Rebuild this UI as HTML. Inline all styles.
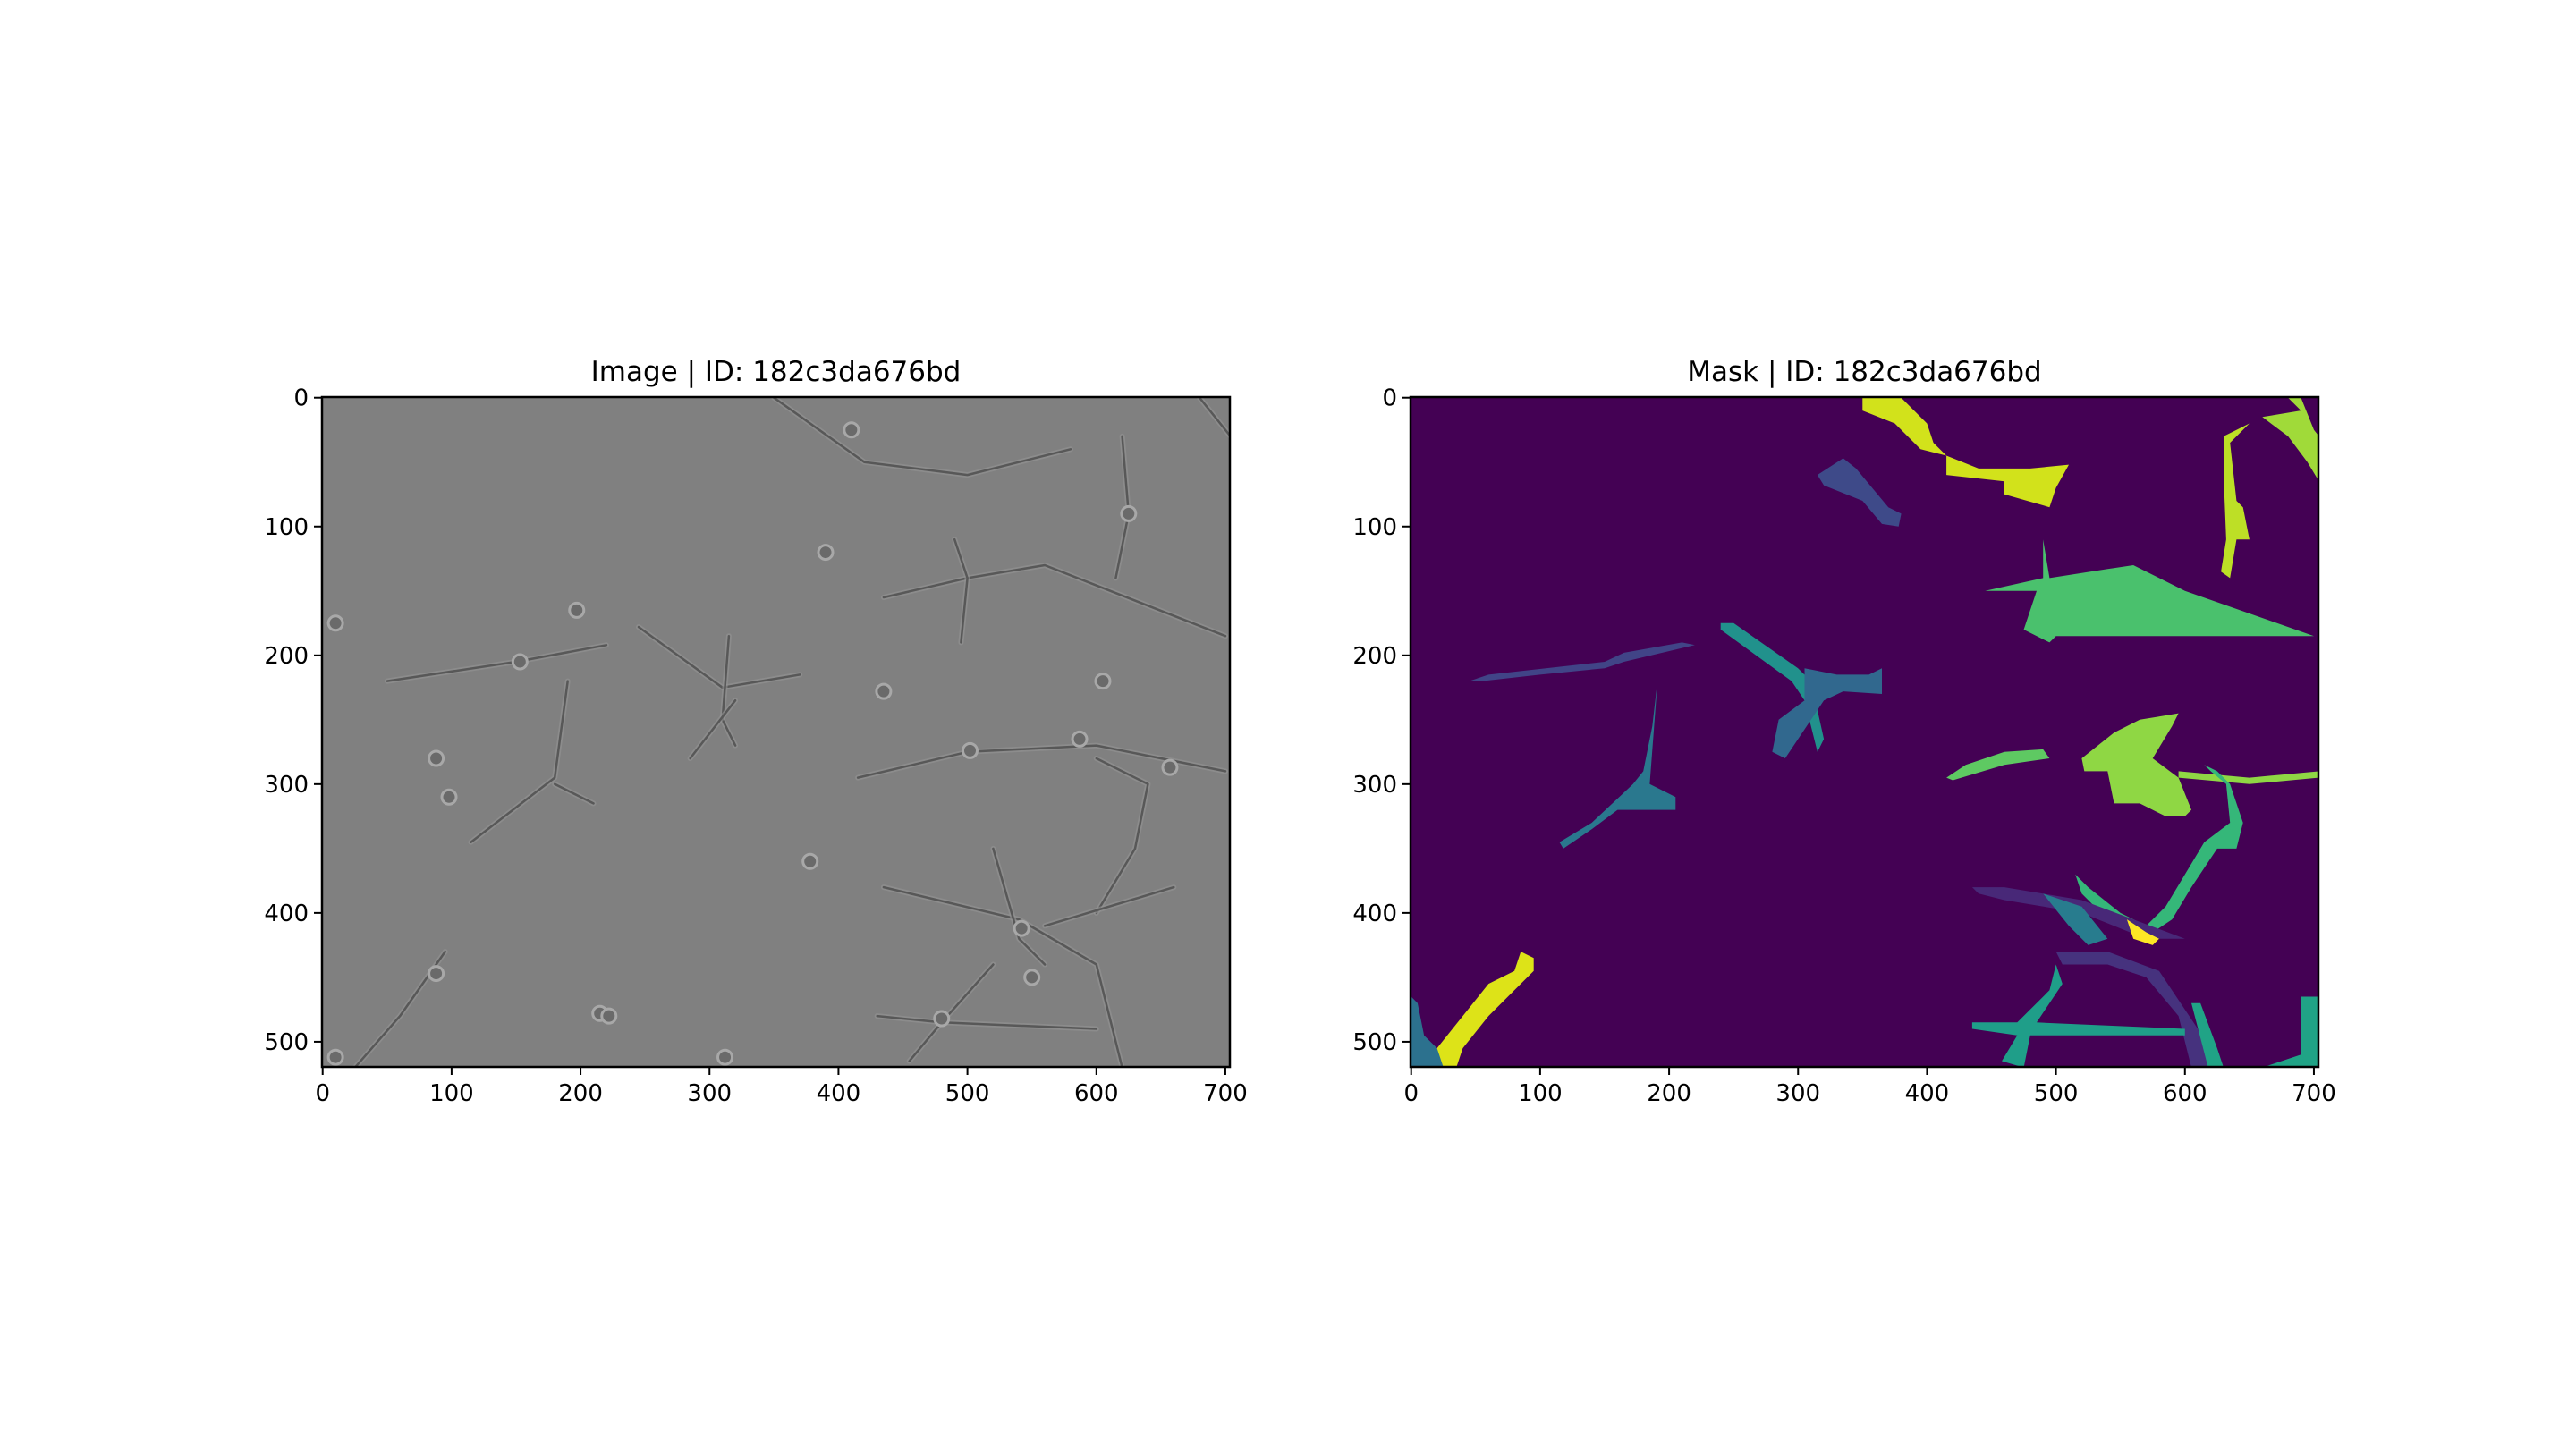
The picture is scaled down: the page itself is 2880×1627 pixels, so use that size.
<!DOCTYPE html>
<html><head><meta charset="utf-8"><style>
html,body{margin:0;padding:0;background:#fff;}
body{width:2880px;height:1622px;overflow:hidden;font-family:"Liberation Sans","DejaVu Sans",sans-serif;}
svg text{font-family:"DejaVu Sans","Liberation Sans",sans-serif;}
</style></head><body>
<svg id="fig" width="2880" height="1622" viewBox="0 0 2880 1622" xmlns="http://www.w3.org/2000/svg"></svg>
<script>
const xTicks=[0,100,200,300,400,500,600,700];
const yTicks=[0,100,200,300,400,500];
const imgW=704, imgH=520;
const titles=["Image | ID: 182c3da676bd","Mask | ID: 182c3da676bd"];
const axLeft=[360,1577];
const maskColors=["#d2e21b","#3e4a89","#bddf26","#a0da39","#4ac16d","#414487","#21918c","#31688e","#2a788e","#5ec962","#8fd744","#8fd744","#35b779","#482878","#287c8e","#fde725","#46327e","#1f9e89","#20a386","#20a386","#dde318","#2c718e"];
const maskShapes=[
[[350,0],[380,0],[400,20],[405,35],[415,45],[440,55],[480,55],[510,52],[500,70],[495,85],[460,75],[460,65],[415,60],[415,45],[395,40],[375,20],[350,10]],
[[315,60],[335,47],[345,55],[370,85],[380,90],[378,100],[365,98],[350,80],[320,68]],
[[630,30],[640,25],[650,20],[635,35],[640,80],[645,85],[650,110],[640,110],[635,140],[628,135],[632,110],[630,60]],
[[660,15],[690,10],[680,0],[690,0],[700,25],[704,30],[704,65],[695,50],[680,30]],
[[445,150],[490,140],[490,110],[495,140],[540,133],[560,130],[600,150],[700,185],[500,185],[495,190],[475,180],[485,150]],
[[45,220],[60,215],[150,205],[165,198],[210,190],[220,192],[165,205],[150,210],[100,215],[55,220]],
[[240,175],[250,175],[300,210],[310,220],[320,265],[315,275],[305,235],[295,220],[240,180]],
[[305,210],[330,215],[355,215],[365,210],[365,230],[335,228],[320,235],[290,280],[280,275],[285,250],[305,235]],
[[191,220],[187,255],[180,290],[172,300],[140,330],[115,345],[118,350],[140,335],[160,320],[205,320],[205,310],[185,300],[188,260]],
[[415,295],[430,285],[460,275],[490,273],[495,280],[460,285],[420,297]],
[[520,280],[545,260],[565,250],[595,245],[590,255],[575,280],[595,295],[605,320],[600,325],[585,325],[565,315],[545,315],[540,290],[522,290]],
[[595,290],[650,295],[704,290],[704,295],[650,300],[595,295]],
[[515,370],[525,380],[550,400],[570,410],[585,395],[600,370],[615,345],[635,330],[632,300],[620,290],[615,285],[625,290],[635,300],[645,330],[640,350],[625,350],[605,380],[590,405],[575,415],[555,410],[540,405],[520,385]],
[[435,380],[460,380],[520,390],[560,405],[600,420],[570,420],[520,400],[460,390],[440,385]],
[[490,385],[520,395],[540,420],[525,425],[510,410]],
[[555,405],[570,415],[580,420],[575,425],[560,420]],
[[500,430],[540,430],[580,445],[610,490],[620,520],[605,520],[595,480],[570,450],[540,440],[505,440]],
[[435,485],[470,485],[495,460],[500,440],[505,455],[485,485],[600,490],[600,495],[480,495],[475,520],[458,515],[470,495],[435,490]],
[[605,470],[612,470],[625,505],[630,520],[618,520]],
[[690,465],[704,465],[704,520],[660,520],[690,510]],
[[20,505],[40,480],[60,455],[80,445],[85,430],[95,435],[95,445],[80,460],[60,480],[40,505],[35,520],[20,520]],
[[0,465],[5,470],[10,495],[20,505],[25,520],[0,520]]
];
const cellLines=[
[[50,220],[150,205],[220,192]],
[[190,220],[180,295],[115,345]],[[180,300],[210,315]],
[[245,178],[310,225],[370,215]],[[315,185],[310,250],[320,270]],[[285,280],[320,235]],
[[435,155],[500,140],[560,130],[700,185]],[[490,110],[500,140],[495,190]],
[[620,30],[625,90],[615,140]],
[[415,295],[500,275],[600,270],[700,290]],[[600,280],[640,300],[630,350],[600,400]],
[[435,380],[540,405],[600,440],[620,520]],[[520,350],[540,420],[560,440]],[[560,410],[660,380]],
[[430,480],[480,485],[600,490]],[[455,515],[480,485],[520,440]],
[[95,430],[60,480],[25,520]],
[[350,0],[420,50],[500,60],[580,40]],[[680,0],[704,30]]
];
const cellDots=[[410,25],[390,120],[197,165],[10,175],[88,280],[98,310],[435,228],[605,220],[502,274],[587,265],[378,360],[215,478],[222,480],[312,512],[10,512],[88,447],[480,482],[550,450],[542,412],[625,90],[657,287],[153,205]];

const NS="http://www.w3.org/2000/svg";
const svg=document.getElementById('fig');
const axW=1015, axH=749, axTop=444;
function sx(ax,v){return axLeft[ax]+(v+0.5)*axW/imgW;}
function sy(v){return axTop+(v+0.5)*axH/imgH;}
function mk(tag,attrs,parent){const e=document.createElementNS(NS,tag);for(const k in attrs)e.setAttribute(k,attrs[k]);(parent||svg).appendChild(e);return e;}
function pts(ax,arr){return arr.map(p=>sx(ax,p[0]).toFixed(1)+','+sy(p[1]).toFixed(1)).join(' ');}

for(let ax=0;ax<2;ax++){
  const g=mk('g',{});
  
  
  const clipId='clip'+ax;
  const cp=mk('clipPath',{id:clipId},g);
  mk('rect',{x:axLeft[ax],y:axTop,width:axW,height:axH},cp);
  const bg=mk('rect',{x:axLeft[ax],y:axTop,width:axW,height:axH,fill:ax===0?'#808080':'#440154'},g);
  
  
  const inner=mk('g',{'clip-path':'url(#'+clipId+')'},g);
  if(ax===0){
    cellLines.forEach(l=>{
      mk('polyline',{points:pts(0,l),fill:'none',stroke:'#959595',"stroke-width":6,"stroke-linejoin":"round","stroke-linecap":"round",opacity:0.6},inner);
      const pl=mk('polyline',{points:pts(0,l),fill:'none',stroke:'#585858',"stroke-width":2.5,"stroke-linejoin":"round","stroke-linecap":"round"},inner);
      
      
    });
    cellDots.forEach(d=>{
      const c=mk('circle',{cx:sx(0,d[0]),cy:sy(d[1]),r:8,fill:'#6a6a6a',stroke:'#a8a8a8',"stroke-width":3},inner);
      
      
    });
  } else {
    maskShapes.forEach((s,i)=>{
      const p=mk('polygon',{points:pts(1,s),fill:maskColors[i]},inner);
      
      
    });
  }
  const fr=mk('rect',{x:axLeft[ax],y:axTop,width:axW,height:axH,fill:'none',stroke:'#000',"stroke-width":2.5},g);
  
  
  xTicks.forEach(t=>{
    const x=sx(ax,t);
    mk('line',{x1:x,x2:x,y1:axTop+axH,y2:axTop+axH+9,stroke:'#000',"stroke-width":2},g);
    const tx=mk('text',{x:x,y:axTop+axH+38,"font-size":26,"text-anchor":"middle",fill:'#000'},g);
    tx.textContent=t;
    
    
  });
  yTicks.forEach(t=>{
    const y=sy(t);
    mk('line',{x1:axLeft[ax]-9,x2:axLeft[ax],y1:y,y2:y,stroke:'#000',"stroke-width":2},g);
    const tx=mk('text',{x:axLeft[ax]-15,y:y+9,"font-size":26,"text-anchor":"end",fill:'#000'},g);
    tx.textContent=t;
    
    
  });
  const tt=mk('text',{x:axLeft[ax]+axW/2,y:axTop-18,"font-size":31,"text-anchor":"middle",fill:'#000'},g);
  tt.textContent=titles[ax];
  
  
}
</script>
</body></html>
